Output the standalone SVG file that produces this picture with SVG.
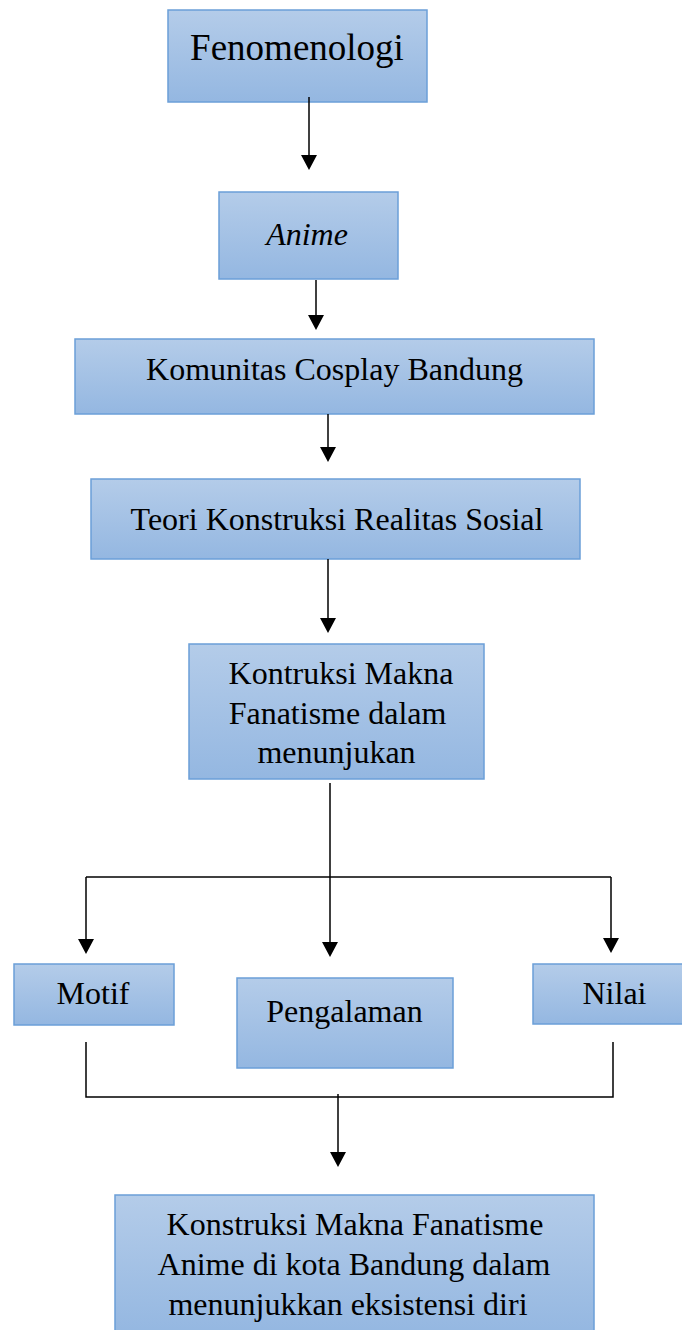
<svg xmlns="http://www.w3.org/2000/svg" width="682" height="1330" viewBox="0 0 682 1330">
<style>
.box{fill:url(#g);stroke:#6b9fd8;stroke-width:1.5}
.t{font-family:"Liberation Serif","Times New Roman",serif;font-size:32px;fill:#000;text-anchor:middle}
.c{fill:none;stroke:#000;stroke-width:1.5}
</style>
<defs>
<linearGradient id="g" x1="0" y1="0" x2="0" y2="1">
<stop offset="0" stop-color="#b4cce9"/>
<stop offset="1" stop-color="#94b7e1"/>
</linearGradient>
<marker id="ah" viewBox="0 0 15 16" refX="13" refY="8" markerWidth="15" markerHeight="16" markerUnits="userSpaceOnUse" orient="auto">
<path d="M0,0 L15,8 L0,16 Z" fill="#000"/>
</marker>
</defs>
<g id="n1"><rect class="box" x="168" y="10" width="259" height="92"/><text class="t" x="297" y="60" style="font-size:37px">Fenomenologi</text></g>
<g id="n2"><rect class="box" x="219" y="192" width="179" height="87"/><text class="t" x="307" y="245" font-style="italic">Anime</text></g>
<g id="n3"><rect class="box" x="75" y="339" width="519" height="75"/><text class="t" x="334.5" y="380">Komunitas Cosplay Bandung</text></g>
<g id="n4"><rect class="box" x="91" y="479" width="489" height="80"/><text class="t" x="337" y="530">Teori Konstruksi Realitas Sosial</text></g>
<g id="n5"><rect class="box" x="189" y="644" width="295" height="135"/><text class="t" x="341" y="684">Kontruksi Makna</text><text class="t" x="337.5" y="724">Fanatisme dalam</text><text class="t" x="336.5" y="763">menunjukan</text></g>
<g id="n6"><rect class="box" x="14" y="964" width="160" height="61"/><text class="t" x="93" y="1004">Motif</text></g>
<g id="n7"><rect class="box" x="237" y="978" width="216" height="90"/><text class="t" x="344.5" y="1022">Pengalaman</text></g>
<g id="n8"><rect class="box" x="533" y="964" width="152" height="60"/><text class="t" x="614.5" y="1004">Nilai</text></g>
<g id="n9"><rect class="box" x="115" y="1195" width="479" height="140"/><text class="t" x="355" y="1235">Konstruksi Makna Fanatisme</text><text class="t" x="354" y="1275">Anime di kota Bandung dalam</text><text class="t" x="348" y="1315">menunjukkan eksistensi diri</text></g>
<g id="connectors">
<line class="c" x1="309" y1="97" x2="309" y2="168" marker-end="url(#ah)"/>
<line class="c" x1="316" y1="280" x2="316" y2="328" marker-end="url(#ah)"/>
<line class="c" x1="328" y1="414" x2="328" y2="460" marker-end="url(#ah)"/>
<line class="c" x1="328" y1="559" x2="328" y2="631" marker-end="url(#ah)"/>
<line class="c" x1="330" y1="783" x2="330" y2="955" marker-end="url(#ah)"/>
<line class="c" x1="86" y1="877" x2="611" y2="877"/>
<line class="c" x1="86" y1="877" x2="86" y2="952" marker-end="url(#ah)"/>
<line class="c" x1="611" y1="877" x2="611" y2="951" marker-end="url(#ah)"/>
<path class="c" d="M86,1042 V1097 H613 V1042"/>
<line class="c" x1="338" y1="1094" x2="338" y2="1165" marker-end="url(#ah)"/>
</g>
</svg>
